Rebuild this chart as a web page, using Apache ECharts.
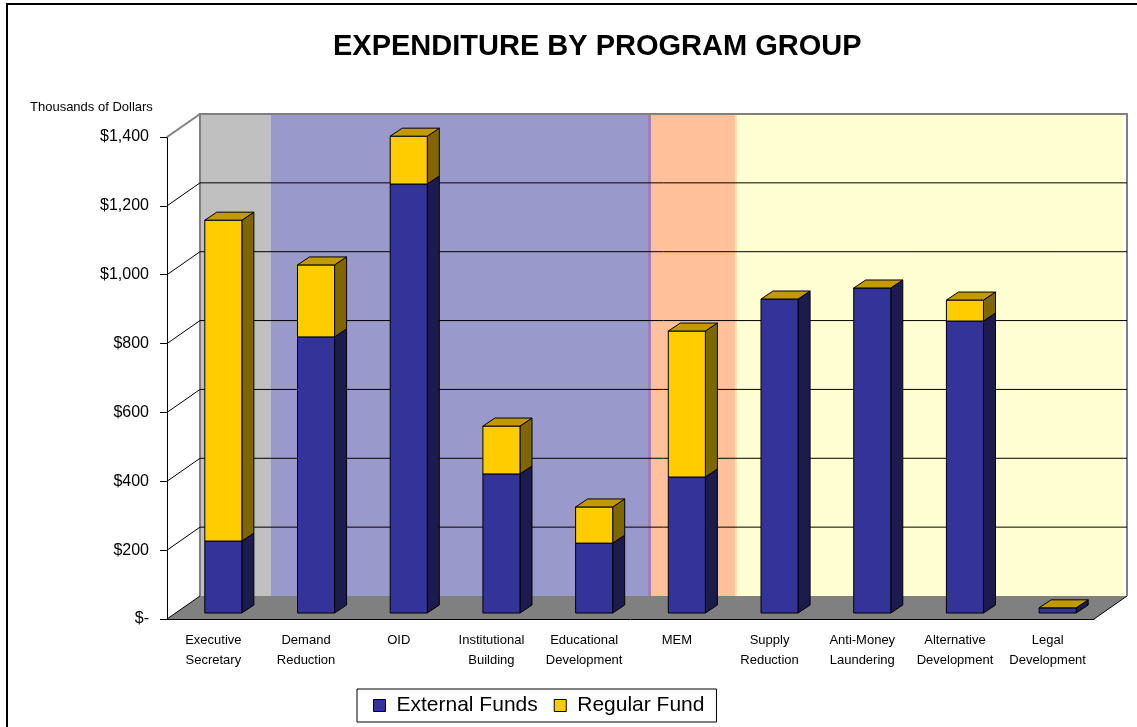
<!DOCTYPE html>
<html>
<head>
<meta charset="utf-8">
<title>Expenditure by Program Group</title>
<script src="https://cdn.jsdelivr.net/npm/echarts@6/dist/echarts.min.js"></script>
<style>
  html, body { margin: 0; padding: 0; background: #fff; }
  #chart { width: 1137px; height: 727px; }
</style>
</head>
<body>
<div id="chart"></div>
<script>
var categories = ['Executive\nSecretary', 'Demand\nReduction', 'OID', 'Institutional\nBuilding',
  'Educational\nDevelopment', 'MEM', 'Supply\nReduction', 'Anti-Money\nLaundering',
  'Alternative\nDevelopment', 'Legal\nDevelopment'];
var externalFunds = [209, 802, 1246, 404, 203, 395, 912, 944, 848, 15];
var regularFund = [932, 209, 139, 139, 105, 424, 0, 0, 61, 0];
var yTicks = [0, 200, 400, 600, 800, 1000, 1200, 1400];

// fake 3d look (pixels)
var DEPTH = [33, -23];      // floor / back wall offset
var BAR_OFF = [10, -6];     // bar front face from the front plane
var BAR_DEPTH = [12, -8];   // bar thickness
// colour bands drawn on the back wall, fractions of its width
var wallBands = [
  [0, 0.0766, '#c0c0c0'],
  [0.0766, 0.4833, '#9999cc'],
  [0.4833, 0.4865, '#9c80b0'],
  [0.4865, 0.5771, '#ffc09a'],
  [0.5771, 0.5793, '#ffe2b2'],
  [0.5793, 0.9957, '#ffffd2']
];

var myChart = echarts.init(document.getElementById('chart'));

function renderFrame(params, api) {
  var cs = params.coordSys;
  var v = api.value(1);
  var y = api.coord([0, v])[1];
  var x0 = cs.x, x1 = cs.x + cs.width;
  var dx = DEPTH[0], dy = DEPTH[1];
  var isTop = v === yTicks[yTicks.length - 1];
  var children = [];
  if (params.dataIndex === 0) {
    var top = api.coord([0, yTicks[yTicks.length - 1]])[1] + dy;
    var bottom = y + dy;
    wallBands.forEach(function (b) {
      children.push({
        type: 'rect',
        shape: { x: x0 + dx + b[0] * cs.width, y: top, width: (b[1] - b[0]) * cs.width, height: bottom - top },
        style: { fill: b[2] }
      });
    });
    // floor
    children.push({
      type: 'polygon',
      shape: { points: [[x0, y], [x1, y], [x1 + dx, y + dy], [x0 + dx, y + dy]] },
      style: { fill: '#808080' }
    });
    children.push({
      type: 'line',
      shape: { x1: x1, y1: y, x2: x1 + dx, y2: y + dy },
      style: { stroke: '#000', lineWidth: 1 }
    });
    // wall edges
    children.push({
      type: 'polyline',
      shape: { points: [[x0 + dx, bottom], [x0 + dx, top], [x1 + dx, top], [x1 + dx, bottom]] },
      style: { stroke: '#808080', lineWidth: 2, fill: null }
    });
  }
  if (v !== 0 && !isTop) {
    children.push({
      type: 'line',
      shape: { x1: x0 + dx, y1: y + dy, x2: x1 + dx, y2: y + dy },
      style: { stroke: '#000', lineWidth: 1 }
    });
  }
  // diagonal on the side wall
  children.push({
    type: 'line',
    shape: { x1: x0, y1: y, x2: x0 + dx, y2: y + dy },
    style: { stroke: isTop ? '#808080' : '#000', lineWidth: isTop ? 2 : 1 }
  });
  return { type: 'group', children: children };
}

function barRenderer(frontColor, sideColor, topColor) {
  return function (params, api) {
    var i = api.value(0);
    var base = api.value(1);
    var val = api.value(2);
    var pLow = api.coord([i, base]);
    var pHigh = api.coord([i, base + val]);
    var w = api.size([1, 0])[0] * 0.4;
    var xl = pLow[0] + BAR_OFF[0] - w / 2;
    var xr = xl + w;
    var yb = pLow[1] + BAR_OFF[1];
    var yt = pHigh[1] + BAR_OFF[1];
    var dx = BAR_DEPTH[0], dy = BAR_DEPTH[1];
    var line = { stroke: '#000', lineWidth: 1, lineJoin: 'round' };
    var children = [];
    if (yb - yt > 0.5) {
      children.push({
        type: 'polygon',
        shape: { points: [[xr, yb], [xr + dx, yb + dy], [xr + dx, yt + dy], [xr, yt]] },
        style: Object.assign({ fill: sideColor }, line)
      });
      children.push({
        type: 'rect',
        shape: { x: xl, y: yt, width: w, height: yb - yt },
        style: Object.assign({ fill: frontColor }, line)
      });
    }
    if (topColor) {
      children.push({
        type: 'polygon',
        shape: { points: [[xl, yt], [xr, yt], [xr + dx, yt + dy], [xl + dx, yt + dy]] },
        style: Object.assign({ fill: topColor }, line)
      });
    }
    return { type: 'group', children: children };
  };
}

var option = {
  animation: false,
  textStyle: { fontFamily: 'Liberation Sans, Arial, sans-serif', color: '#000' },
  title: {
    text: 'EXPENDITURE BY PROGRAM GROUP',
    left: 333,
    top: 32,
    padding: 0,
    textStyle: { fontSize: 29, fontWeight: 'bold', color: '#000', fontFamily: 'Liberation Sans, Arial, sans-serif' }
  },
  legend: {
    left: 357,
    top: 689,
    padding: [6, 12, 6, 16],
    borderColor: '#000',
    borderWidth: 1,
    itemWidth: 12,
    itemHeight: 12,
    itemGap: 16,
    icon: 'rect',
    itemStyle: { borderColor: '#000', borderWidth: 1 },
    textStyle: { fontSize: 21, color: '#000', padding: [0, 0, 0, 6] },
    data: ['External Funds', 'Regular Fund']
  },
  grid: { left: 167, right: 43, top: 137, bottom: 108 },
  xAxis: {
    type: 'category',
    data: categories,
    axisLine: { lineStyle: { color: '#000', width: 1 } },
    axisTick: { length: 7, lineStyle: { color: '#000' } },
    axisLabel: { interval: 0, fontSize: 13, lineHeight: 20, margin: 11, color: '#000' }
  },
  yAxis: {
    type: 'value',
    min: 0,
    max: 1400,
    interval: 200,
    axisLine: { show: true, lineStyle: { color: '#000', width: 1 } },
    axisTick: { show: true, length: 7, lineStyle: { color: '#000' } },
    splitLine: { show: false },
    axisLabel: {
      fontSize: 16,
      margin: 18,
      color: '#000',
      formatter: function (v) { return v === 0 ? '$-' : '$' + v.toLocaleString('en-US'); }
    }
  },
  graphic: [
    {
      type: 'text',
      left: 30,
      top: 101,
      style: { text: 'Thousands of Dollars', fontSize: 13, fill: '#000', fontFamily: 'Liberation Sans, Arial, sans-serif' }
    },
    {
      type: 'rect',
      shape: { x: 7, y: 4, width: 1300, height: 900 },
      style: { fill: null, stroke: '#000', lineWidth: 2 }
    }
  ],
  series: [
    {
      name: 'frame',
      type: 'custom',
      clip: false,
      silent: true,
      z: 1,
      renderItem: renderFrame,
      data: yTicks.map(function (v) { return [0, v]; })
    },
    {
      name: 'External Funds',
      type: 'custom',
      clip: false,
      z: 3,
      itemStyle: { color: '#333399' },
      renderItem: barRenderer('#333399', '#1b1b4e', null),
      encode: { x: 0, y: 2 },
      data: externalFunds.map(function (v, i) { return [i, 0, v]; })
    },
    {
      name: 'Regular Fund',
      type: 'custom',
      clip: false,
      z: 4,
      itemStyle: { color: '#ffcc00' },
      renderItem: barRenderer('#ffcc00', '#806600', '#c09a00'),
      encode: { x: 0, y: 2 },
      data: regularFund.map(function (v, i) { return [i, externalFunds[i], v]; })
    }
  ]
};

myChart.setOption(option);
</script>
</body>
</html>
